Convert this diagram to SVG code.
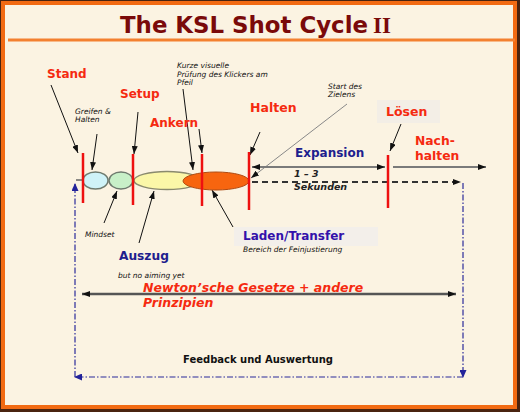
<svg xmlns="http://www.w3.org/2000/svg" width="520" height="412" viewBox="0 0 520 412">
<defs>
<style>
.lbl{font-family:"DejaVu Sans","Liberation Sans",sans-serif;font-weight:bold;}
.red{fill:#F52A10;}
.blue{fill:#1E1E8E;}
.note{font-family:"DejaVu Sans","Liberation Sans",sans-serif;font-style:italic;font-size:7.5px;fill:#111;}
.ptr{stroke:#111;stroke-width:1;fill:none;marker-end:url(#ah);}
.redline{stroke:#EE1010;stroke-width:2.5;}
.dd{stroke:#2B2B9A;stroke-width:1.2;stroke-dasharray:6 2 1.5 2;fill:none;}
</style>
<marker id="ah" viewBox="0 0 8 6" refX="8" refY="3" markerWidth="8" markerHeight="6" markerUnits="userSpaceOnUse" orient="auto"><path d="M0,0 L8,3 L0,6 z" fill="#111"/></marker>
<marker id="ahg" viewBox="0 0 8 6" refX="8" refY="3" markerWidth="8" markerHeight="6" markerUnits="userSpaceOnUse" orient="auto-start-reverse"><path d="M0,0 L8,3 L0,6 z" fill="#111"/></marker>
<marker id="ahb" viewBox="0 0 8 7" refX="7" refY="3.5" markerWidth="8" markerHeight="7" markerUnits="userSpaceOnUse" orient="auto"><path d="M0,0 L8,3.5 L0,7 z" fill="#22229A"/></marker>
</defs>
<rect x="0" y="0" width="520" height="412" fill="#4A2410"/>
<rect x="3" y="3" width="512" height="404" fill="#FBF3E2" stroke="#F26A12" stroke-width="4"/>
<line x1="8" y1="40" x2="515" y2="40" stroke="#F38030" stroke-width="3"/>
<g id="title">
<text x="120" y="33" class="lbl" font-size="23" fill="#7A0A0A" textLength="248" lengthAdjust="spacingAndGlyphs">The KSL Shot Cycle</text>
<text x="373" y="33" font-family="Liberation Serif,serif" font-weight="bold" font-size="23" fill="#7A0A0A">II</text>
</g>
<g id="connectors">
<line x1="76" y1="180" x2="83" y2="180" stroke="#666" stroke-width="1.5"/>
<line class="ptr" x1="51" y1="85" x2="78" y2="153"/>
<line class="ptr" x1="97" y1="134" x2="92" y2="170"/>
<line class="ptr" x1="138" y1="112" x2="134" y2="154"/>
<line class="ptr" x1="183" y1="89" x2="193" y2="170"/>
<line class="ptr" x1="199" y1="129" x2="202" y2="153"/>
<line class="ptr" x1="260" y1="132" x2="250" y2="155"/>
<line class="ptr" x1="401" y1="124" x2="390" y2="151"/>
<line class="ptr" x1="104" y1="223" x2="117" y2="191"/>
<line class="ptr" x1="139" y1="243" x2="154" y2="191"/>
<line class="ptr" x1="233" y1="227" x2="212" y2="190"/>
<line x1="347" y1="104" x2="251" y2="178" stroke="#888" stroke-width="1" marker-end="url(#ah)"/>
<line x1="252" y1="167" x2="385" y2="167" stroke="#7A7A7A" stroke-width="2" marker-start="url(#ahg)" marker-end="url(#ahg)"/>
<line x1="393" y1="167" x2="486" y2="167" stroke="#7A7A7A" stroke-width="2" marker-end="url(#ahg)"/>
<line x1="252" y1="182" x2="461" y2="182" stroke="#333" stroke-width="2" stroke-dasharray="6 4" marker-end="url(#ahg)"/>
<line x1="82" y1="294" x2="456" y2="294" stroke="#555" stroke-width="2.5" marker-start="url(#ahg)" marker-end="url(#ahg)"/>
<path class="dd" d="M463,183 V377" marker-end="url(#ahb)"/>
<path class="dd" d="M463,377 H75" marker-end="url(#ahb)"/>
<path class="dd" d="M75,377 V184" marker-end="url(#ahb)"/>
</g>
<g id="phases">
<ellipse cx="95.5" cy="180.5" rx="12.5" ry="8.5" fill="#CFF3F8" stroke="#6E7A6E" stroke-width="1.5"/>
<ellipse cx="121" cy="180.5" rx="12" ry="8.5" fill="#C8F0C8" stroke="#6E7A6E" stroke-width="1.5"/>
<ellipse cx="167" cy="180.5" rx="33" ry="9" fill="#FBF7A8" stroke="#8A8A6E" stroke-width="1.5"/>
<ellipse cx="216" cy="181" rx="33" ry="9" fill="#F7650F" stroke="#B04A10" stroke-width="1"/>
</g>
<g id="markers">
<line class="redline" x1="83" y1="153" x2="83" y2="203"/>
<line class="redline" x1="133" y1="154" x2="133" y2="205"/>
<line class="redline" x1="202" y1="154" x2="202" y2="206"/>
<line class="redline" x1="249" y1="152" x2="249" y2="210"/>
<line class="redline" x1="388" y1="155" x2="388" y2="208"/>
</g>
<g id="stand"><text x="47" y="78" class="lbl red" font-size="12">Stand</text></g>
<g id="greifen"><text class="note" x="75" y="114">Greifen &amp;</text><text class="note" x="75" y="122">Halten</text></g>
<g id="setup"><text x="120" y="98" class="lbl red" font-size="12">Setup</text></g>
<g id="ankern"><text x="150" y="127" class="lbl red" font-size="12">Ankern</text></g>
<g id="kurze"><text class="note" x="177" y="68">Kurze visuelle</text><text class="note" x="177" y="77">Prüfung des Klickers am</text><text class="note" x="177" y="85">Pfeil</text></g>
<g id="halten"><text x="250" y="112" class="lbl red" font-size="12.5">Halten</text></g>
<g id="start"><text class="note" x="328" y="89">Start des</text><text class="note" x="328" y="97">Zielens</text></g>
<g id="loesen"><rect x="377" y="100" width="63" height="23" fill="#F3EEE6"/><text x="386" y="116" class="lbl red" font-size="12.5">Lösen</text></g>
<g id="nachhalten"><text x="415" y="145" class="lbl red" font-size="12.3">Nach-</text><text x="415" y="160" class="lbl red" font-size="12.3">halten</text></g>
<g id="expansion"><text x="295" y="157" class="lbl blue" font-size="12">Expansion</text></g>
<g id="sekunden"><text x="294" y="177" class="lbl" font-style="italic" font-size="9.5" fill="#222">1 – 3</text><text x="294" y="190" class="lbl" font-style="italic" font-size="9.5" fill="#222">Sekunden</text></g>
<g id="mindset"><text class="note" x="85" y="237">Mindset</text></g>
<g id="auszug"><text x="119" y="260" class="lbl blue" font-size="12.2">Auszug</text><text class="note" x="118" y="278" font-size="7">but no aiming yet</text></g>
<g id="laden"><rect x="234" y="227" width="144" height="19" fill="#F3EFEA"/><text x="243" y="240" class="lbl" font-size="12" fill="#3311AA">Laden/Transfer</text><text class="note" x="243" y="252" font-size="7">Bereich der Feinjustierung</text></g>
<g id="newton"><text x="143" y="292" class="lbl red" font-style="italic" font-size="12.5">Newton’sche Gesetze + andere</text><text x="143" y="307" class="lbl red" font-style="italic" font-size="12.5">Prinzipien</text></g>
<g id="feedback"><text x="183" y="363" class="lbl" font-size="10" fill="#111">Feedback und Auswertung</text></g>
</svg>
